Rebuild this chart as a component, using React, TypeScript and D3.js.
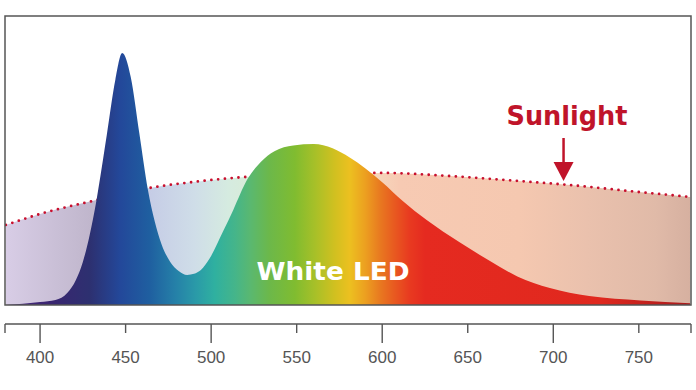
import * as d3 from "d3";

// White LED emission spectrum (relative intensity, % of plot height)
const ledWavelengths = [380, 400, 409, 416, 421, 425, 429, 433, 439, 444, 448, 453, 458, 463, 467, 471, 476, 481, 486, 490, 494, 499, 507, 513, 521, 529, 537, 548, 560, 571, 581, 590, 600, 612, 626, 645, 663, 679, 698, 721, 751, 780];
const ledValues = [0, 1.0, 1.7, 4.2, 8.7, 14.9, 24.2, 36.3, 58.8, 77.9, 87.2, 78.9, 59.5, 40.0, 29.0, 21.0, 15.0, 11.8, 10.4, 10.8, 12.1, 16.0, 25.5, 33.0, 43.3, 49.5, 53.2, 55.2, 55.7, 54.2, 51.0, 47.3, 42.5, 36.0, 29.4, 21.8, 15.2, 9.9, 5.9, 3.1, 1.6, 0.6];

// Sunlight spectrum
const sunWavelengths = [380, 400, 433, 464, 490, 520, 560, 600, 640, 680, 710, 750, 780];
const sunValues = [27.7, 31.5, 36.3, 40.5, 42.6, 44.3, 45.3, 45.7, 44.6, 42.9, 41.5, 39.1, 37.4];

const majorTicks = [400, 500, 600, 700];
const minorTicks = [450, 550, 650, 750];
const tickLabels = ["400", "450", "500", "550", "600", "650", "700", "750"];

// colour stops along wavelength
const ledStops: [number, string][] = [
  [380, "#4a2a80"], [406, "#3a2570"], [429, "#2d3070"], [447, "#23489a"], [464, "#1f5fa0"],
  [479, "#2580a8"], [491, "#2a9aa8"], [502, "#2fb0a0"], [514, "#45b58a"], [523, "#5ab870"],
  [534, "#6cb84a"], [549, "#80bc30"], [561, "#a8c028"], [572, "#d0c020"], [581, "#ecc020"],
  [590, "#eca020"], [599, "#e87820"], [607, "#e85a20"], [616, "#e83a20"], [625, "#e52a20"],
  [727, "#e0281e"], [780, "#a81a1c"],
];
const sunStops: [number, string][] = [
  [380, "#d8cde6"], [410, "#c9bfd6"], [430, "#c0b6cc"], [465, "#c6cde6"], [490, "#cfdde8"],
  [510, "#d5ebe0"], [550, "#e0ecc8"], [590, "#f5dcc0"], [610, "#f7cab3"], [680, "#f5c8b0"],
  [720, "#eac1ad"], [760, "#e0baa8"], [780, "#d6b0a0"],
];

const W = 696;
const H = 390;
const frame = { left: 5, right: 691, top: 16, bottom: 305 };
const axisY = 324;

export default function App() {
  const x = d3.scaleLinear().domain([379.5, 780.5]).range([frame.left, frame.right]);
  const y = d3.scaleLinear().domain([0, 100]).range([frame.bottom, frame.top]);

  const led = ledWavelengths.map((w, i) => [w, ledValues[i]] as [number, number]);
  const sun = sunWavelengths.map((w, i) => [w, sunValues[i]] as [number, number]);

  const area = d3
    .area<[number, number]>()
    .x((d) => x(d[0]))
    .y0(y(0))
    .y1((d) => y(d[1]))
    .curve(d3.curveMonotoneX);
  const line = d3
    .line<[number, number]>()
    .x((d) => x(d[0]))
    .y((d) => y(d[1]))
    .curve(d3.curveMonotoneX);

  const span = 780 - 380;
  const arrowX = x(706);
  const sans = "'Liberation Sans', Arial, Helvetica, sans-serif";
  const bold = "'DejaVu Sans', 'Liberation Sans', Arial, sans-serif";

  return (
    <svg width={W} height={H} style={{ position: "absolute", left: 0, top: 0, background: "#fff" }}>
      <defs>
        <linearGradient id="ledGrad" gradientUnits="userSpaceOnUse" x1={x(380)} x2={x(780)} y1={0} y2={0}>
          {ledStops.map(([w, c], i) => (
            <stop key={i} offset={(w - 380) / span} stopColor={c} />
          ))}
        </linearGradient>
        <linearGradient id="sunGrad" gradientUnits="userSpaceOnUse" x1={x(380)} x2={x(780)} y1={0} y2={0}>
          {sunStops.map(([w, c], i) => (
            <stop key={i} offset={(w - 380) / span} stopColor={c} />
          ))}
        </linearGradient>
        <clipPath id="plotClip">
          <rect x={frame.left} y={frame.top} width={frame.right - frame.left} height={frame.bottom - frame.top} />
        </clipPath>
      </defs>

      <g clipPath="url(#plotClip)">
        <path d={area(sun) ?? ""} fill="url(#sunGrad)" />
        <path
          d={line(sun) ?? ""}
          fill="none"
          stroke="#c8102e"
          strokeWidth={2.8}
          strokeLinecap="round"
          strokeDasharray="0 6.8"
        />
        <path d={area(led) ?? ""} fill="url(#ledGrad)" />
      </g>

      <rect
        x={frame.left}
        y={frame.top}
        width={frame.right - frame.left}
        height={frame.bottom - frame.top}
        fill="none"
        stroke="#555"
        strokeWidth={1.5}
      />

      <text x={333} y={280} fill="#fff" fontFamily={bold} fontWeight="bold" fontSize={25} textAnchor="middle" textLength={153} lengthAdjust="spacingAndGlyphs">
        White LED
      </text>

      <text x={567} y={125} fill="#c0142a" fontFamily={bold} fontWeight="bold" fontSize={26} textAnchor="middle" textLength={121} lengthAdjust="spacingAndGlyphs">
        Sunlight
      </text>
      <line x1={arrowX} x2={arrowX} y1={138} y2={164} stroke="#c0142a" strokeWidth={2.5} />
      <path d={`M${arrowX - 10},162 L${arrowX + 10},162 L${arrowX},181 Z`} fill="#c0142a" />

      {/* wavelength axis */}
      <g stroke="#555" strokeWidth={1.4} fill="none">
        <line x1={frame.left} x2={frame.right} y1={axisY} y2={axisY} />
        <line x1={frame.left} x2={frame.left} y1={axisY} y2={axisY + 9} />
        <line x1={frame.right} x2={frame.right} y1={axisY} y2={axisY + 9} />
        {majorTicks.map((t) => (
          <line key={t} x1={x(t)} x2={x(t)} y1={axisY} y2={axisY + 19} />
        ))}
        {minorTicks.map((t) => (
          <line key={t} x1={x(t)} x2={x(t)} y1={axisY} y2={axisY + 9} />
        ))}
      </g>
      {tickLabels.map((t) => (
        <text key={t} x={x(+t)} y={363} fill="#555" fontFamily={sans} fontSize={17} textAnchor="middle">
          {t}
        </text>
      ))}
    </svg>
  );
}
